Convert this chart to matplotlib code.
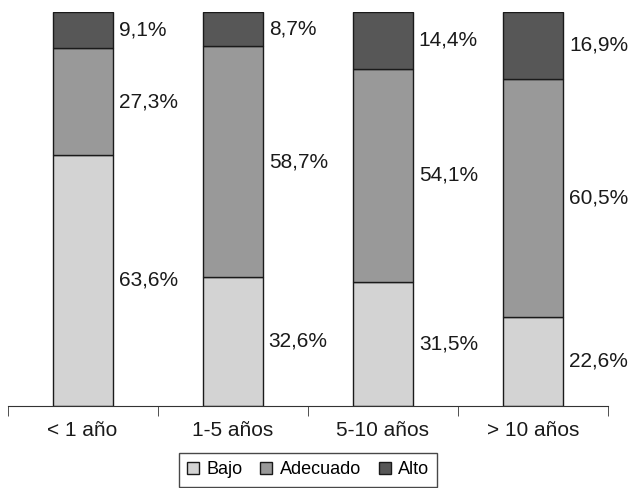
import matplotlib.pyplot as plt
import numpy as np

plt.rcParams['font.family'] = ['Liberation Sans', 'DejaVu Sans']

categorias = ['< 1 año', '1-5 años', '5-10 años', '> 10 años']
bajo = [63.6, 32.6, 31.5, 22.6]
adecuado = [27.3, 58.7, 54.1, 60.5]
alto = [9.1, 8.7, 14.4, 16.9]

series = [('Bajo', bajo, '#d3d3d3'),
          ('Adecuado', adecuado, '#999999'),
          ('Alto', alto, '#575757')]

fig = plt.figure(figsize=(6.32, 4.88), dpi=100)
ax = fig.add_axes([7.5/632, 82.5/488, 600.5/632, 393.5/488])

x = np.arange(len(categorias))
w = 0.4
base = np.zeros(len(categorias))
for nombre, vals, color in series:
    vals = np.array(vals)
    ax.bar(x, vals, w, bottom=base, color=color, edgecolor='#1a1a1a',
           linewidth=1, label=nombre)
    for xi, b, v in zip(x, base, vals):
        ax.text(xi + w/2 + 0.04, b + v/2, f"{v:.1f}".replace('.', ',') + '%',
                ha='left', va='center', fontsize=15, color='#1a1a1a')
    base += vals

ax.set_xlim(-0.5, len(categorias) - 0.5)
ax.set_ylim(0, 100)
for s in ['top', 'right', 'left']:
    ax.spines[s].set_visible(False)
ax.spines['bottom'].set_color('#333333')
ax.set_yticks([])
ax.set_xticks(x)
ax.set_xticklabels(categorias, fontsize=15, color='#1a1a1a')
ax.tick_params(axis='x', which='major', length=0, pad=11)
ax.set_xticks(np.arange(-0.5, len(categorias)), minor=True)
ax.tick_params(axis='x', which='minor', length=7, direction='out', color='#333333')

leg = fig.legend(loc='center', bbox_to_anchor=(308/632, 18/488), ncol=3,
                 fontsize=13, frameon=True, fancybox=False, edgecolor='#1a1a1a',
                 handlelength=0.67, handleheight=0.67, handletextpad=0.4,
                 columnspacing=1.0, borderpad=0.45)
leg.get_frame().set_linewidth(1)

fig.savefig('out.png', dpi=100)
